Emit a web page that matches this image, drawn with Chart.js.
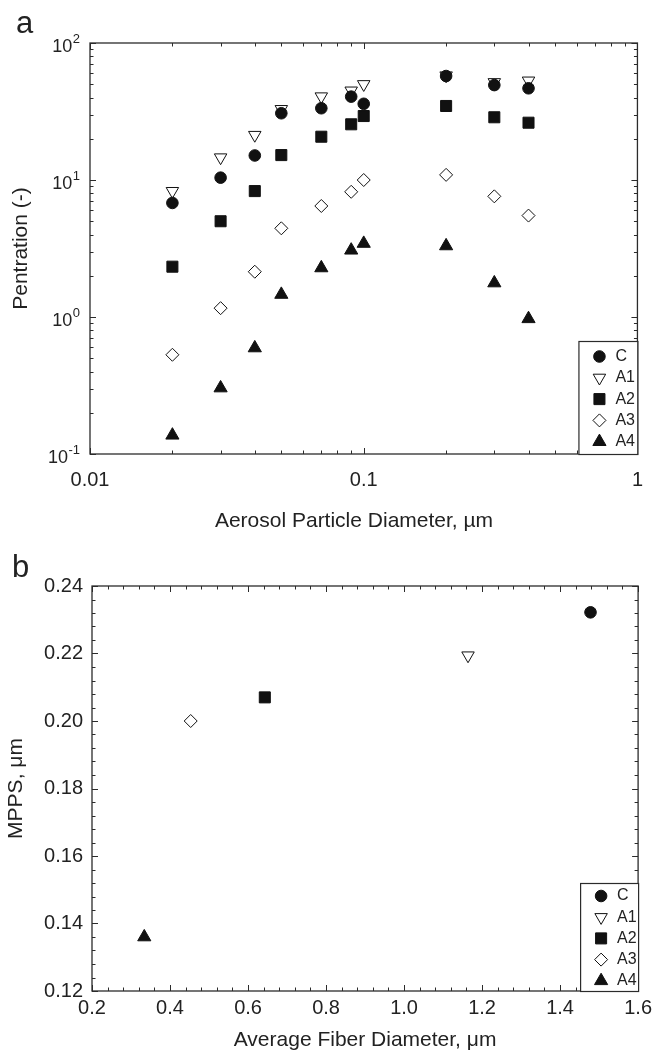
<!DOCTYPE html>
<html>
<head>
<meta charset="utf-8">
<script src="https://cdn.jsdelivr.net/npm/chart.js@4.4.1/dist/chart.umd.min.js"></script>
<style>
  body { margin: 0; background: #fff; }
  #wrap { position: relative; width: 657px; height: 1051px; }
  canvas { position: absolute; left: 0; }
  #penChart { top: 0; }
  #mppsChart { top: 545px; }
</style>
</head>
<body>
<div id="wrap">
  <canvas id="penChart" width="657" height="545"></canvas>
  <canvas id="mppsChart" width="657" height="506"></canvas>
</div>
<script>
// panel a: penetration vs aerosol particle diameter (um)
const particleDia = [0.02, 0.03, 0.04, 0.05, 0.07, 0.09, 0.1, 0.2, 0.3, 0.4];
const penC  = [6.8, 10.4, 15.1, 30.7, 33.4, 40.6, 36.0, 57.4, 49.3, 46.7];
const penA1 = [8.3, 14.6, 21.3, 32.9, 40.7, 44.9, 50.0, 57.9, 51.7, 53.1];
const penA2 = [2.33, 5.0, 8.3, 15.2, 20.7, 25.5, 29.3, 34.7, 28.7, 26.2];
const penA3 = [0.53, 1.16, 2.14, 4.44, 6.46, 8.2, 10.0, 10.9, 7.6, 5.5];
const penA4 = [0.137, 0.303, 0.594, 1.46, 2.28, 3.07, 3.44, 3.30, 1.77, 0.97];

// panel b: MPPS vs average fiber diameter, one point per sample
const sampleNames = ['C', 'A1', 'A2', 'A3', 'A4'];
const fiberDia = [1.478, 1.164, 0.643, 0.453, 0.334];
const mpps = [0.2322, 0.2194, 0.207, 0.200, 0.136];

// tick labels
const penXLabels = [0.01, 0.1, 1];
const penYLabels = [0.1, 1, 10, 100];
const mppsXLabels = [0.2, 0.4, 0.6, 0.8, 1.0, 1.2, 1.4, 1.6];
const mppsYLabels = [0.12, 0.14, 0.16, 0.18, 0.20, 0.22, 0.24];

const FONT = "'Liberation Sans', Arial, Helvetica, sans-serif";
Chart.defaults.font.family = FONT;
Chart.defaults.color = '#222';

const markers = {
  C:  { pointStyle: 'circle',   rotation: 0,   fill: '#111', radius: 5.8 },
  A1: { pointStyle: 'triangle', rotation: 180, fill: '#fff', radius: 7.2 },
  A2: { pointStyle: 'rect',     rotation: 0,   fill: '#111', radius: 7.8 },
  A3: { pointStyle: 'rectRot',  rotation: 0,   fill: '#fff', radius: 6.5 },
  A4: { pointStyle: 'triangle', rotation: 0,   fill: '#111', radius: 7.6 },
};

function styled(name, data) {
  const m = markers[name];
  return {
    label: name,
    data,
    pointStyle: m.pointStyle,
    rotation: m.rotation,
    pointRadius: m.radius,
    pointHoverRadius: m.radius,
    backgroundColor: m.fill,
    borderColor: '#111',
    pointBorderWidth: 1,
    showLine: false,
  };
}

function logTicks(minExp, maxExp) {
  const out = [];
  for (let e = minExp; e < maxExp; e++) {
    for (let k = 1; k <= 9; k++) out.push(Number((k * Math.pow(10, e)).toPrecision(6)));
  }
  out.push(Math.pow(10, maxExp));
  return out;
}

function stepTicks(min, max, step, digits) {
  const out = [];
  const n = Math.round((max - min) / step);
  for (let i = 0; i <= n; i++) out.push(Number((min + i * step).toFixed(digits)));
  return out;
}

const near = (a, list) => list.some((v) => Math.abs(v - a) < 1e-9);

// frame, inward ticks on all four sides, panel letter, power labels and legend
const decorate = {
  id: 'decorate',
  afterDatasetsDraw(chart, args, opts) {
    const { ctx, chartArea: a, scales } = chart;
    ctx.save();
    ctx.strokeStyle = '#2b2b2b';
    ctx.lineWidth = 1;
    ctx.beginPath();
    scales.x.ticks.forEach((t) => {
      const px = Math.round(scales.x.getPixelForValue(t.value)) + 0.5;
      const len = t.major ? 6 : 3.5;
      ctx.moveTo(px, a.bottom); ctx.lineTo(px, a.bottom - len);
      ctx.moveTo(px, a.top); ctx.lineTo(px, a.top + len);
    });
    scales.y.ticks.forEach((t) => {
      const py = Math.round(scales.y.getPixelForValue(t.value)) + 0.5;
      const len = t.major ? 6 : 3.5;
      ctx.moveTo(a.left, py); ctx.lineTo(a.left + len, py);
      ctx.moveTo(a.right, py); ctx.lineTo(a.right - len, py);
    });
    ctx.stroke();
    ctx.lineWidth = 1.3;
    ctx.strokeRect(a.left, a.top, a.right - a.left, a.bottom - a.top);

    // power-of-ten labels on the log y axis
    if (opts.powers) {
      opts.powers.forEach((v) => {
        const y = scales.y.getPixelForValue(v);
        const exp = String(Math.round(Math.log10(v)));
        ctx.fillStyle = '#222';
        ctx.textBaseline = 'alphabetic';
        ctx.font = '13px ' + FONT;
        const ew = ctx.measureText(exp).width;
        ctx.textAlign = 'left';
        ctx.fillText(exp, opts.powerRight - ew, y - 0.3);
        ctx.font = '18px ' + FONT;
        ctx.textAlign = 'right';
        ctx.fillText('10', opts.powerRight - ew - 0.5, y + 8.5);
      });
    }

    // x axis title drawn by hand where it sits off-centre
    if (opts.xTitle) {
      ctx.fillStyle = '#222';
      ctx.font = '21px ' + FONT;
      ctx.textAlign = 'center';
      ctx.textBaseline = 'middle';
      ctx.fillText(opts.xTitle.text, opts.xTitle.x, opts.xTitle.y);
    }

    // panel letter
    ctx.fillStyle = '#222';
    ctx.font = '31px ' + FONT;
    ctx.textAlign = 'left';
    ctx.textBaseline = 'alphabetic';
    ctx.fillText(opts.tag, opts.tagX, opts.tagY);

    // legend box in lower right corner
    const L = opts.legend;
    const bx = a.right - L.width;
    const by = a.bottom - L.height;
    ctx.fillStyle = '#fff';
    ctx.fillRect(bx, by, L.width, L.height);
    ctx.lineWidth = 1.2;
    ctx.strokeStyle = '#2b2b2b';
    ctx.strokeRect(bx + 0.5, by + 0.5, L.width, L.height);
    chart.data.datasets.forEach((ds, i) => {
      const cy = by + L.first + i * L.step;
      const m = markers[ds.label];
      ctx.fillStyle = m.fill;
      ctx.strokeStyle = '#111';
      ctx.lineWidth = 1;
      Chart.helpers.drawPoint(ctx, { pointStyle: m.pointStyle, rotation: m.rotation, radius: m.radius, borderWidth: 1 }, bx + 21, cy);
      ctx.fillStyle = '#222';
      ctx.font = '16px ' + FONT;
      ctx.textAlign = 'left';
      ctx.textBaseline = 'middle';
      ctx.fillText(ds.label, bx + 37, cy);
    });
    ctx.restore();
  },
};

const titleFont = { size: 21, lineHeight: 1 };

new Chart(document.getElementById('penChart'), {
  type: 'scatter',
  data: {
    datasets: [
      styled('C', particleDia.map((x, i) => ({ x, y: penC[i] }))),
      styled('A1', particleDia.map((x, i) => ({ x, y: penA1[i] }))),
      styled('A2', particleDia.map((x, i) => ({ x, y: penA2[i] }))),
      styled('A3', particleDia.map((x, i) => ({ x, y: penA3[i] }))),
      styled('A4', particleDia.map((x, i) => ({ x, y: penA4[i] }))),
    ],
  },
  options: {
    responsive: false,
    animation: false,
    devicePixelRatio: 1,
    layout: { padding: { left: 0, top: 43, right: 14, bottom: 0 } },
    plugins: {
      legend: { display: false },
      tooltip: { enabled: false },
      decorate: {
        tag: 'a', tagX: 16, tagY: 33,
        powers: penYLabels, powerRight: 80,
        xTitle: { text: 'Aerosol Particle Diameter, µm', x: 354, y: 521.5 },
        legend: { width: 59, height: 113, first: 15.5, step: 21.3 },
      },
    },
    scales: {
      x: {
        type: 'logarithmic',
        min: 0.01,
        max: 1,
        grid: { display: false, drawTicks: false },
        border: { display: false },
        afterBuildTicks: (s) => { s.ticks = logTicks(-2, 0).map((v) => ({ value: v, major: near(v, penXLabels) })); },
        afterFit: (s) => { s.height = 91; },
        ticks: {
          autoSkip: false,
          maxRotation: 0,
          padding: 14,
          font: { size: 20 },
          callback: (v) => (near(v, penXLabels) ? String(v) : ''),
        },
        title: { display: false },
      },
      y: {
        type: 'logarithmic',
        min: 0.1,
        max: 100,
        grid: { display: false, drawTicks: false },
        border: { display: false },
        afterBuildTicks: (s) => { s.ticks = logTicks(-1, 2).map((v) => ({ value: v, major: near(v, penYLabels) })); },
        afterFit: (s) => { s.width = 90; },
        ticks: { display: false },
        title: { display: true, text: 'Pentration (-)', font: titleFont, padding: { top: 11, bottom: 0 } },
      },
    },
  },
  plugins: [decorate],
});

new Chart(document.getElementById('mppsChart'), {
  type: 'scatter',
  data: {
    datasets: sampleNames.map((n, i) => styled(n, [{ x: fiberDia[i], y: mpps[i] }])),
  },
  options: {
    responsive: false,
    animation: false,
    devicePixelRatio: 1,
    layout: { padding: { left: 0, top: 41, right: 15, bottom: 0 } },
    plugins: {
      legend: { display: false },
      tooltip: { enabled: false },
      decorate: {
        tag: 'b', tagX: 12, tagY: 32,
        legend: { width: 58, height: 108, first: 13, step: 21.2 },
      },
    },
    scales: {
      x: {
        type: 'linear',
        min: 0.2,
        max: 1.6,
        grid: { display: false, drawTicks: false },
        border: { display: false },
        afterBuildTicks: (s) => { s.ticks = stepTicks(0.2, 1.6, 0.04, 2).map((v) => ({ value: v, major: near(v, mppsXLabels) })); },
        afterFit: (s) => { s.height = 60; },
        ticks: {
          autoSkip: false,
          maxRotation: 0,
          padding: 5,
          font: { size: 20 },
          callback: (v) => (near(v, mppsXLabels) ? v.toFixed(1) : ''),
        },
        title: { display: true, text: 'Average Fiber Diameter, μm', font: titleFont, padding: { top: 0, bottom: 0 } },
      },
      y: {
        type: 'linear',
        min: 0.12,
        max: 0.24,
        grid: { display: false, drawTicks: false },
        border: { display: false },
        afterBuildTicks: (s) => { s.ticks = stepTicks(0.12, 0.24, 0.004, 3).map((v) => ({ value: v, major: near(v, mppsYLabels) })); },
        afterFit: (s) => { s.width = 92; },
        ticks: {
          autoSkip: false,
          padding: 9,
          font: { size: 20 },
          callback: (v) => (near(v, mppsYLabels) ? v.toFixed(2) : ''),
        },
        title: { display: true, text: 'MPPS, μm', font: titleFont, padding: { top: 6, bottom: 0 } },
      },
    },
  },
  plugins: [decorate],
});
</script>
</body>
</html>
